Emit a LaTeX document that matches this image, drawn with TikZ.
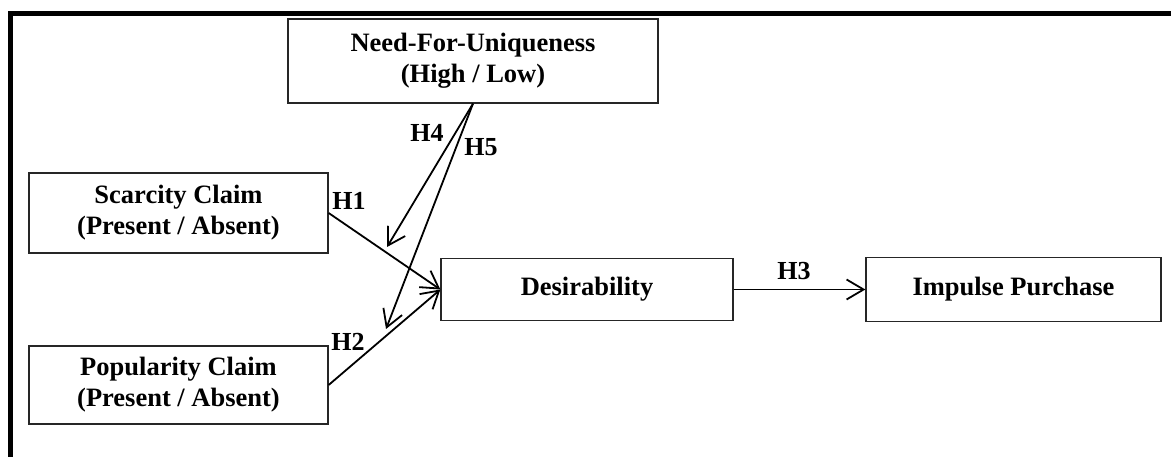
\documentclass[tikz,border=0pt]{standalone}
\usepackage{fontspec}
\setmainfont{Liberation Serif}
\usetikzlibrary{arrows.meta}
\begin{document}
\begin{tikzpicture}[x=1pt,y=-1pt,
  box/.style={draw=black!85, line width=1.3pt, inner sep=0pt, align=center,
    font=\bfseries\fontsize{26.5}{31}\selectfont},
  lab/.style={inner sep=0pt, font=\bfseries\fontsize{26}{30}\selectfont},
  conn/.style={line width=1.8pt, -{Straight Barb[length=17pt,width=20pt,line width=1.8pt]}},
  frame/.style={line width=5pt}]
\useasboundingbox (0,0) rectangle (1171,457);
\draw[frame] (10,457) -- (10,13.5) -- (1172,13.5);
\node[box, minimum width=370pt, minimum height=84pt] (nfu) at (473,61) {Need-For-Uniqueness\\(High / Low)};
\node[box, minimum width=299pt, minimum height=80pt] (sc) at (178.5,213) {Scarcity Claim\\(Present / Absent)};
\node[box, minimum width=299pt, minimum height=78pt] (po) at (178.5,385) {Popularity Claim\\(Present / Absent)};
\node[box, minimum width=292pt, minimum height=62pt] (de) at (587,289.5) {Desirability};
\node[box, minimum width=295pt, minimum height=64pt] (ip) at (1013.5,289.5) {Impulse Purchase};
\coordinate (h4end) at (387,247);
\coordinate (h5end) at (386,329);
\draw[conn] (sc.east) -- (de.west);
\draw[conn] (po.east) -- (de.west);
\draw[conn] (nfu.south) -- (h4end);
\draw[conn] (nfu.south) -- (h5end);
\draw[conn] (de.east) -- (ip.west);
\node[lab] (l1) at (349,201) {H1};
\node[lab] (l2) at (348,342) {H2};
\node[lab] (l3) at (794,271) {H3};
\node[lab] (l4) at (427,133) {H4};
\node[lab] (l5) at (481,147) {H5};
\end{tikzpicture}
\end{document}
